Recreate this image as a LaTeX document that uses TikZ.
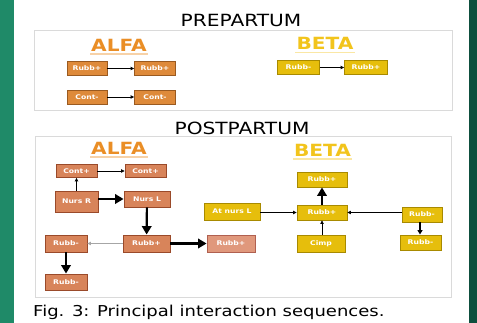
\documentclass[tikz,border=0pt]{standalone}
\usepackage{fontspec}
\usetikzlibrary{arrows.meta}
\newfontfamily\widesans[FakeStretch=1.2]{DejaVu Sans}
\newfontfamily\widebold[FakeStretch=1.2]{DejaVu Sans Bold}
\definecolor{greenL}{HTML}{1F8A68}
\definecolor{greenR}{HTML}{0E4F3E}
\definecolor{boxgray}{HTML}{DADADA}
\definecolor{orfill}{HTML}{DE8A3A}
\definecolor{ordraw}{HTML}{9A5A20}
\definecolor{brfill}{HTML}{D8845A}
\definecolor{brdraw}{HTML}{9A4A2A}
\definecolor{safill}{HTML}{E0987C}
\definecolor{sadraw}{HTML}{B06050}
\definecolor{yefill}{HTML}{E6BE0C}
\definecolor{yedraw}{HTML}{A88A00}
\definecolor{alfacol}{HTML}{EA8E26}
\definecolor{betacol}{HTML}{F2C41C}
\tikzset{
  nbase/.style={inner sep=0pt, line width=0.9pt, text=white,
    font=\widebold\fontsize{6.4}{7}\selectfont},
  obox/.style={nbase, fill=orfill, draw=ordraw},
  bbox/.style={nbase, fill=brfill, draw=brdraw},
  sbox/.style={nbase, fill=safill, draw=sadraw},
  ybox/.style={nbase, fill=yefill, draw=yedraw},
  thin/.style={line width=0.7pt, -{Triangle[length=3.4pt,width=3.4pt]}},
  thick/.style={line width=2.2pt, -{Triangle[length=8.5pt,width=9.5pt]}},
  medarr/.style={line width=1.4pt, -{Triangle[length=4.5pt,width=5pt]}},
  title/.style={font=\widesans\fontsize{16.8}{18}\selectfont, anchor=base, inner sep=0pt},
  head/.style={font=\widebold\fontsize{16.8}{18}\selectfont, anchor=base, inner sep=0pt},
  panel/.style={draw=boxgray, line width=1pt}
}
\begin{document}
\begin{tikzpicture}[x=1pt,y=-1pt]
\useasboundingbox (0,0) rectangle (477,323);
\fill[white] (0,0) rectangle (477,323);
\fill[greenL] (0,0) rectangle (13.5,323);
\fill[greenR] (469,0) rectangle (477,323);

% panels
\draw[panel] (34.5,31) rectangle (452,111);
\draw[panel] (35,137) rectangle (451.5,298);

% titles
\node[title] (tpre) at (241,27) {PREPARTUM};
\node[title] (tpost) at (242,135) {POSTPARTUM};
\node[font=\widesans\fontsize{15}{17}\selectfont, anchor=base west, inner sep=0pt] (cap) at (33,317) {Fig. 3: Principal interaction sequences.};

% headings
\draw[alfacol!40, line width=1.2pt] (90,54) -- (148,54);
\node[head, text=alfacol] (h1) at (119,52) {ALFA};
\draw[betacol!40, line width=1.2pt] (295,52.5) -- (355,52.5);
\node[head, text=betacol] (h2) at (325,50) {BETA};
\draw[alfacol!40, line width=1.2pt] (90,157) -- (148,157);
\node[head, text=alfacol] (h3) at (119,155) {ALFA};
\draw[betacol!40, line width=1.2pt] (293,159) -- (352,159);
\node[head, text=betacol] (h4) at (322.5,157) {BETA};

% prepartum nodes
\node[obox, minimum width=40pt, minimum height=14pt] (a1) at (87,68.5) {Rubb+};
\node[obox, minimum width=41pt, minimum height=14pt] (a2) at (155,68.5) {Rubb+};
\node[obox, minimum width=40pt, minimum height=14pt] (a3) at (87,97) {Cont-};
\node[obox, minimum width=41pt, minimum height=14pt] (a4) at (155,97) {Cont-};
\node[ybox, minimum width=42pt, minimum height=14pt] (b1) at (298.5,67.5) {Rubb-};
\node[ybox, minimum width=43pt, minimum height=14pt] (b2) at (366,67.5) {Rubb+};
\draw[thin] (a1) -- (a2);
\draw[thin] (a3) -- (a4);
\draw[thin] (b1) -- (b2);

% postpartum ALFA
\node[bbox, minimum width=41pt, minimum height=13pt] (c1) at (76.5,171) {Cont+};
\node[bbox, minimum width=41pt, minimum height=13pt] (c2) at (145.5,171) {Cont+};
\node[bbox, minimum width=43pt, minimum height=21pt] (n1) at (76.5,201.5) {Nurs R};
\node[bbox, minimum width=46pt, minimum height=16pt] (n2) at (147,199) {Nurs L};
\node[bbox, minimum width=47pt, minimum height=17pt] (r1) at (146.5,243.5) {Rubb+};
\node[bbox, minimum width=42pt, minimum height=17pt] (r2) at (66,243.5) {Rubb-};
\node[bbox, minimum width=42pt, minimum height=16pt] (r3) at (66,282) {Rubb-};
\node[sbox, minimum width=48pt, minimum height=17pt] (r4) at (231,243.5) {Rubb+};
\draw[thin] (n1) -- (c1);
\draw[thin] (c1) -- (c2);
\draw[thick] (n1.east |- n2) -- (n2.west);
\draw[thick] (n2) -- (r1);
\draw[thin, draw=gray!70] (r1) -- (r2);
\draw[thick] (r2) -- (r3);
\draw[thick] (r1) -- (r4);

% postpartum BETA
\node[ybox, minimum width=50pt, minimum height=15pt] (d1) at (322,179.5) {Rubb+};
\node[ybox, minimum width=56pt, minimum height=17pt] (d2) at (232,211.5) {At nurs L};
\node[ybox, minimum width=50pt, minimum height=15pt] (d3) at (322,212.5) {Rubb+};
\node[ybox, minimum width=48pt, minimum height=17pt] (d4) at (321,243.5) {Cimp};
\node[ybox, minimum width=40pt, minimum height=15pt] (d5) at (422,214.5) {Rubb-};
\node[ybox, minimum width=41pt, minimum height=15pt] (d6) at (420.5,242.5) {Rubb-};
\coordinate (v5) at (420,222);
\coordinate (v6) at (420,235);
\draw[thin] (d2.east |- d3) -- (d3.west);
\draw[thick] (d3) -- (d1);
\draw[thin] (d4.north -| d3) -- (d3.south);
\draw[thin] (d5.west |- d3) -- (d3.east);
\draw[medarr] (d5.south -| v5) -- (d6.north -| v6);
\end{tikzpicture}
\end{document}
